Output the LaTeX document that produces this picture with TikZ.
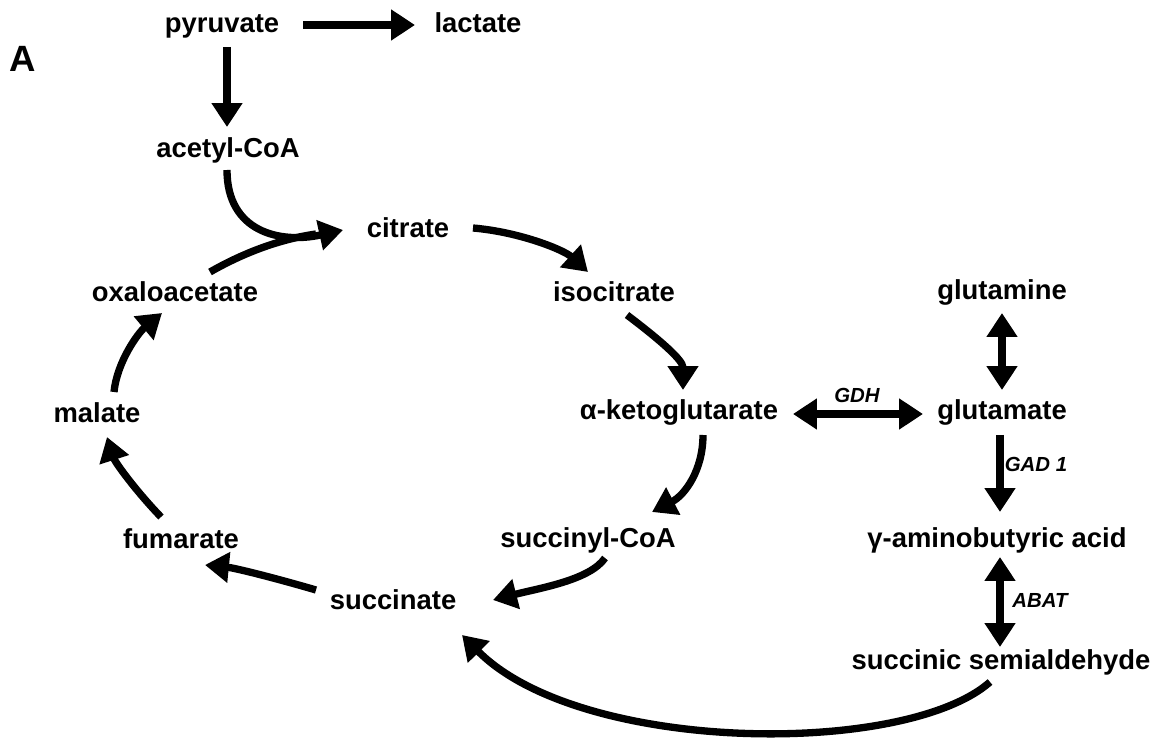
\documentclass[tikz,border=0pt]{standalone}
\usepackage{fontspec}
\setmainfont{Liberation Sans}
\usetikzlibrary{arrows.meta, calc}

\begin{document}
\begin{tikzpicture}[
    x=0.025cm, y=-0.025cm,
    metab/.style={font=\bfseries\fontsize{19.5}{22}\selectfont, inner sep=0pt, text height=14pt, text depth=4pt},
    enzyme/.style={font=\bfseries\itshape\fontsize{14.5}{16}\selectfont, inner sep=0pt},
    panel/.style={font=\bfseries\fontsize{26}{28}\selectfont, inner sep=0pt},
    line/.style={draw, line width=5.2pt},
    arr/.style={line, -{Triangle[length=17pt, width=21pt]}},
    dblarr/.style={line, {Triangle[length=17pt, width=21pt]}-{Triangle[length=17pt, width=21pt]}}
]
\useasboundingbox[fill=white] (0,0) rectangle (1163,740);

% panel letter
\node [panel] (A) at (23,59) {A};

% metabolites
\node [metab] (pyruvate) at (222,25) {pyruvate};
\node [metab] (lactate) at (478,25) {lactate};
\node [metab] (acetyl) at (228,150) {acetyl-CoA};
\node [metab] (citrate) at (408,230) {citrate};
\node [metab] (isocitrate) at (614,294) {isocitrate};
\node [metab] (akg) at (679,412) {α-ketoglutarate};
\node [metab] (succoa) at (588,540) {succinyl-CoA};
\node [metab] (succinate) at (393,602) {succinate};
\node [metab] (fumarate) at (181,541) {fumarate};
\node [metab] (malate) at (97,415) {malate};
\node [metab] (oxalo) at (175,294) {oxaloacetate};
\node [metab] (glutamine) at (1002,292) {glutamine};
\node [metab] (glutamate) at (1002,412) {glutamate};
\node [metab] (gaba) at (997,540) {γ-aminobutyric acid};
\node [metab] (ssa) at (1001,662) {succinic semialdehyde};

% enzymes
\node [enzyme] (gdh) at (857,395) {GDH};
\node [enzyme] (gad) at (1036,464) {GAD 1};
\node [enzyme] (abat) at (1040,600) {ABAT};

% glycolysis end
\path [arr] ($(pyruvate)+(81,0)$) -- ($(lactate)+(-63,0)$);
\path [arr] ($(pyruvate)+(5,22)$) -- ($(acetyl)+(-1,-23)$);

% entry into the cycle
\coordinate (merge) at ($(citrate)+(-92,4)$);
\path [arr] ($(acetyl)+(-1,20)$) .. controls ($(acetyl)+(-1,82)$) and ($(citrate)+(-128,14)$) .. ($(citrate)+(-65,0)$);
\path [line] ($(oxalo)+(35,-22)$) .. controls ($(oxalo)+(70,-42)$) and ($(merge)+(-35,5)$) .. (merge);

% TCA cycle
\path [arr] ($(citrate)+(65,-2)$) .. controls ($(citrate)+(112,2)$) and ($(isocitrate)+(-50,-44)$) .. ($(isocitrate)+(-26,-22)$);
\path [arr] ($(isocitrate)+(13,21)$) .. controls ($(isocitrate)+(46,46)$) and ($(akg)+(4,-52)$) .. ($(akg)+(4,-22)$);
\path [arr] ($(akg)+(24,23)$) .. controls ($(akg)+(24,58)$) and ($(succoa)+(97,-45)$) .. ($(succoa)+(64,-28)$);
\path [arr] ($(succoa)+(17,18)$) .. controls ($(succoa)+(2,40)$) and ($(succinate)+(147,-14)$) .. ($(succinate)+(100,-2)$);
\path [arr] ($(succinate)+(-77,-12)$) .. controls ($(succinate)+(-118,-24)$) and ($(fumarate)+(54,27)$) .. ($(fumarate)+(24,24)$);
\path [arr] ($(fumarate)+(-20,-24)$) .. controls ($(fumarate)+(-46,-51)$) and ($(malate)+(18,47)$) .. ($(malate)+(10,22)$);
\path [arr] ($(malate)+(17,-23)$) .. controls ($(malate)+(20,-53)$) and ($(oxalo)+(-37,39)$) .. ($(oxalo)+(-13,19)$);

% glutamate branch
\path [dblarr] ($(akg)+(114,2)$) -- ($(glutamate)+(-79,2)$);
\path [dblarr] ($(glutamine)+(0,21)$) -- ($(glutamate)+(0,-22)$);
\path [arr] ($(glutamate)+(-2,23)$) -- ($(gaba)+(3,-28)$);
\path [dblarr] ($(gaba)+(3,17)$) -- ($(ssa)+(-1,-15)$);

% GABA shunt back to succinate
\path [arr] ($(ssa)+(-11,20)$) .. controls ($(ssa)+(-96,95)$) and ($(succinate)+(187,152)$) .. ($(succinate)+(69,33)$);

\end{tikzpicture}
\end{document}
